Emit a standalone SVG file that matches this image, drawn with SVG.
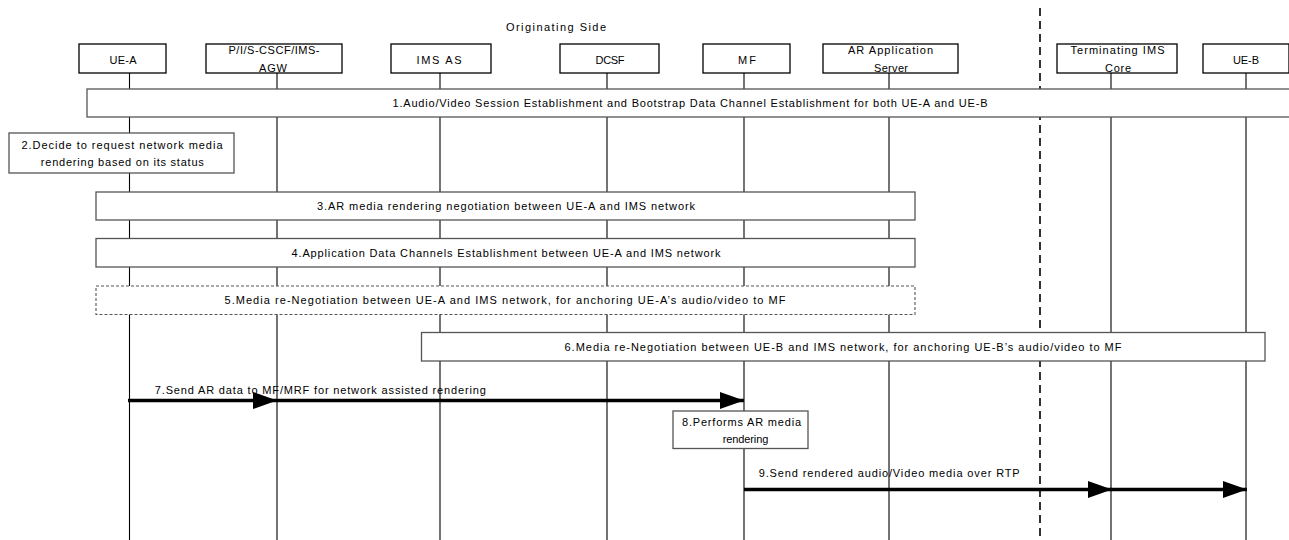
<svg xmlns="http://www.w3.org/2000/svg" width="1289" height="540" viewBox="0 0 1289 540">
<style>
text{font-family:"Liberation Sans",Arial,sans-serif;font-size:11px;fill:#000;text-anchor:middle}
.hdr{fill:#fff;stroke:#000;stroke-width:1.3}
.proc{fill:#fff;stroke:#555;stroke-width:1.3}
.dproc{fill:#fff;stroke:#555;stroke-width:1.1;stroke-dasharray:3 2}
.life{stroke:#000;stroke-width:1.1;fill:none}
.sep{stroke:#000;stroke-width:1.6;stroke-dasharray:8 5;fill:none}
.msg{stroke:#000;stroke-width:3.6;fill:none;marker-end:url(#ah)}
</style>
<defs>
<marker id="ah" markerUnits="userSpaceOnUse" markerWidth="24" markerHeight="17" refX="24" refY="8.5" orient="auto">
<path d="M0,0 L24,8.5 L0,17 z" fill="#000"/>
</marker>
</defs>
<rect width="1289" height="540" fill="#fff"/>
<text x="556" y="31" font-size="12" textLength="100">Originating Side</text>
<line class="sep" x1="1040" y1="8" x2="1040" y2="540"/>
<g id="lifelines">
<line class="life" x1="129.5" y1="73" x2="129.5" y2="540"/>
<line class="life" x1="277" y1="73" x2="277" y2="540"/>
<line class="life" x1="440" y1="73" x2="440" y2="540"/>
<line class="life" x1="607" y1="73" x2="607" y2="540"/>
<line class="life" x1="744" y1="73" x2="744" y2="540"/>
<line class="life" x1="889" y1="73" x2="889" y2="540"/>
<line class="life" x1="1111" y1="73" x2="1111" y2="540"/>
<line class="life" x1="1246" y1="73" x2="1246" y2="540"/>
</g>
<g id="ue-a"><rect class="hdr" x="79" y="44" width="87" height="29"/><text x="123" y="64" textLength="27">UE-A</text></g>
<g id="cscf"><rect class="hdr" x="206" y="44" width="136" height="29"/><text x="274" y="54" textLength="91">P/I/S-CSCF/IMS-</text><text x="273" y="71.5" textLength="28">AGW</text></g>
<g id="ims-as"><rect class="hdr" x="391" y="44" width="100" height="29"/><text x="439" y="64" textLength="45">IMS AS</text></g>
<g id="dcsf"><rect class="hdr" x="560" y="44" width="99" height="29"/><text x="610" y="64" textLength="29">DCSF</text></g>
<g id="mf"><rect class="hdr" x="703" y="44" width="87" height="29"/><text x="747" y="64" textLength="18">MF</text></g>
<g id="ar-as"><rect class="hdr" x="823" y="44" width="135" height="29"/><text x="890.5" y="54" textLength="85">AR Application</text><text x="891" y="72" textLength="34">Server</text></g>
<g id="term-ims"><rect class="hdr" x="1057" y="44" width="120" height="29"/><text x="1117.5" y="54" textLength="94">Terminating IMS</text><text x="1118" y="72" textLength="26">Core</text></g>
<g id="ue-b"><rect class="hdr" x="1203" y="44" width="86" height="29"/><text x="1246" y="64" textLength="26">UE-B</text></g>
<g id="step1"><rect class="proc" x="87" y="89" width="1210" height="28"/><text x="690" y="107" textLength="595">1.Audio/Video Session Establishment and Bootstrap Data Channel Establishment for both UE-A and UE-B</text></g>
<g id="step2"><rect class="proc" x="9" y="133" width="225" height="40"/><text x="122" y="149" textLength="201">2.Decide to request network media</text><text x="122.3" y="166" textLength="163">rendering based on its status</text></g>
<g id="step3"><rect class="proc" x="96" y="192" width="819" height="28"/><text x="506" y="210" textLength="378">3.AR media rendering negotiation between UE-A and IMS network</text></g>
<g id="step4"><rect class="proc" x="96" y="238.5" width="819" height="28.5"/><text x="506" y="256.7" textLength="429">4.Application Data Channels Establishment between UE-A and IMS network</text></g>
<g id="step5"><rect class="dproc" x="96" y="286" width="819" height="28.5"/><text x="505" y="304" textLength="561">5.Media re-Negotiation between UE-A and IMS network, for anchoring UE-A’s audio/video to MF</text></g>
<g id="step6"><rect class="proc" x="421.5" y="332.5" width="843.5" height="28.5"/><text x="843" y="350.7" textLength="557">6.Media re-Negotiation between UE-B and IMS network, for anchoring UE-B’s audio/video to MF</text></g>
<g id="connectors">
<line class="msg" x1="128" y1="400.5" x2="277" y2="400.5"/>
<line class="msg" x1="277" y1="400.5" x2="744" y2="400.5"/>
<line class="msg" x1="744" y1="489.5" x2="1112" y2="489.5"/>
<line class="msg" x1="1111" y1="489.5" x2="1247" y2="489.5"/>
<text x="320.3" y="394" textLength="331">7.Send AR data to MF/MRF for network assisted rendering</text>
<text x="889.2" y="477.3" textLength="261">9.Send rendered audio/Video media over RTP</text>
</g>
<g id="step8"><rect class="proc" x="673" y="411" width="135" height="37.5"/><text x="741.5" y="426.3" textLength="119">8.Performs AR media</text><text x="745.5" y="443" textLength="45.5">rendering</text></g>
</svg>
